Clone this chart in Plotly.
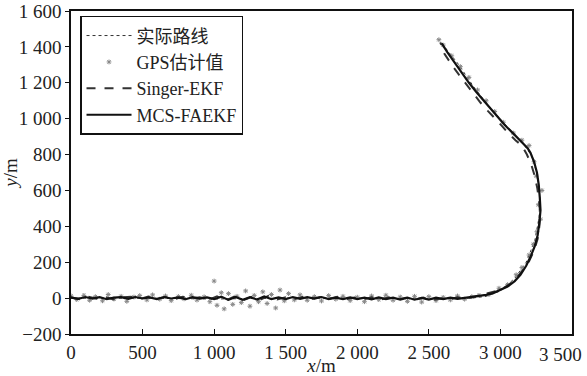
import plotly.graph_objects as go

# Actual route waypoints
route_x = [0, 500, 1000, 1500, 2000, 2500, 2800, 2900, 3000, 3100, 3180, 3240, 3270, 3275, 3260, 3220, 3170, 3080, 2950, 2820, 2700, 2580]
route_y = [0, 0, -5, 0, 0, -5, 0, 10, 40, 110, 200, 320, 450, 560, 680, 790, 850, 930, 1040, 1170, 1310, 1430]

# GPS estimates
gps_x = [0, 40, 90, 130, 170, 220, 260, 300, 350, 390, 440, 480, 530, 570, 620, 660, 700, 750, 790, 840,
         880, 930, 970, 1000, 1020, 1050, 1070, 1100, 1130, 1160, 1190, 1220, 1250, 1280, 1310, 1340, 1370,
         1400, 1430, 1460, 1490, 1520, 1560, 1600, 1650, 1700, 1750, 1800, 1850, 1900, 1950, 2000, 2050,
         2100, 2150, 2200, 2250, 2300, 2350, 2400, 2450, 2500, 2550, 2600, 2650, 2700, 2750, 2800, 2850,
         2920, 2990, 3050, 3110, 3150, 3200, 3230, 3255, 3280, 3265, 3290, 3250, 3235, 3200, 3150, 3090,
         3020, 2960, 2900, 2840, 2780, 2720, 2660, 2600, 2570]
gps_y = [12, -8, 15, -12, 8, -15, 20, -5, 10, -18, 6, 14, -10, 18, -6, 12, -14, 9, -4, 16,
         -11, 7, -20, 95, -40, 30, -60, 25, -35, 10, -25, 40, -45, 15, -20, 35, -30,
         20, -55, 45, -15, 25, -10, 18, -12, 8, -16, 14, -6, 10, -14, 5, -20,
         12, -8, 16, -12, 6, -18, 10, -22, 8, -14, 4, -10, 12, -6, 8, 15,
         20, 55, 75, 130, 170, 240, 300, 370, 440, 520, 600, 680, 760, 850, 880, 920,
         980, 1040, 1100, 1160, 1230, 1290, 1350, 1410, 1440]

# Singer-EKF estimates
singer_x = [0, 60, 120, 180, 240, 300, 360, 420, 480, 540, 600, 660, 720, 780, 840, 900, 960, 1020, 1080,
            1140, 1200, 1260, 1320, 1380, 1440, 1500, 1560, 1620, 1680, 1740, 1800, 1860, 1920, 1980,
            2040, 2100, 2160, 2220, 2280, 2340, 2400, 2460, 2520, 2580, 2640, 2700, 2760, 2820, 2880,
            2940, 3000, 3060, 3110, 3160, 3200, 3235, 3260, 3272, 3278, 3270, 3258, 3240, 3215, 3185,
            3150, 3105, 3060, 3010, 2960, 2910, 2860, 2810, 2760, 2710, 2660, 2610, 2580]
singer_y = [5, -6, 8, -4, 6, -8, 4, 7, -5, 9, -3, 6, -7, 8, -2, 5, -9, 10, -14, 8, -12, 6, -10, 12,
            -8, 4, -6, 7, -5, 6, -4, 8, -6, 3, -7, 5, -9, 4, -8, 2, -10, 3, -12, -2, -8, 5, -4, 8, 18,
            30, 45, 75, 110, 160, 205, 265, 330, 400, 470, 540, 610, 680, 745, 800, 850, 880, 915, 960,
            1000, 1045, 1090, 1140, 1190, 1245, 1300, 1360, 1425]

# MCS-FAEKF estimates
mcs_x = [0, 50, 100, 150, 200, 250, 300, 350, 400, 450, 500, 550, 600, 650, 700, 750, 800, 850, 900, 950,
         1000, 1050, 1100, 1150, 1200, 1250, 1300, 1350, 1400, 1450, 1500, 1550, 1600, 1650, 1700, 1750,
         1800, 1850, 1900, 1950, 2000, 2050, 2100, 2150, 2200, 2250, 2300, 2350, 2400, 2450, 2500, 2550,
         2600, 2650, 2700, 2750, 2800, 2850, 2900, 2950, 3000, 3050, 3100, 3140, 3180, 3210, 3240, 3260,
         3272, 3280, 3275, 3268, 3255, 3235, 3210, 3190, 3160, 3120, 3080, 3030, 2980, 2930, 2880,
         2830, 2780, 2730, 2680, 2630, 2590]
mcs_y = [3, -4, 6, -3, 5, -6, 3, 5, -4, 6, -2, 4, -5, 6, -2, 4, -6, 5, -3, 4, -6, 8, -10, 6, -9, 5,
         -8, 9, -6, 4, -5, 6, -4, 5, -3, 6, -5, 3, -6, 4, -5, 3, -7, 4, -6, 2, -8, 3, -9, 1, -8, 2,
         -6, 3, -4, 2, 4, 10, 18, 28, 45, 65, 95, 130, 180, 230, 290, 350, 420, 490, 560, 630, 700,
         760, 810, 835, 860, 890, 925, 965, 1010, 1055, 1100, 1150, 1200, 1255, 1310, 1370, 1420]

tick_x = [0, 500, 1000, 1500, 2000, 2500, 3000, 3500]
tick_x_text = ["0", "500", "1 000", "1 500", "2 000", "2 500", "3 000", "3 500"]
tick_y = [-200, 0, 200, 400, 600, 800, 1000, 1200, 1400, 1600]
tick_y_text = ["\u2212200", "0", "200", "400", "600", "800", "1 000", "1 200", "1 400", "1 600"]

FONT = "'Liberation Serif', 'Times New Roman', 'Noto Sans CJK SC', serif"

fig = go.Figure()
fig.add_trace(go.Scatter(x=route_x, y=route_y, mode="lines", name="实际路线",
                         line=dict(color="#333", width=1, dash="dot")))
fig.add_trace(go.Scatter(x=gps_x, y=gps_y, mode="markers", name="GPS估计值",
                         marker=dict(symbol="asterisk", size=4, color="#888",
                                     line=dict(width=1, color="#888"))))
fig.add_trace(go.Scatter(x=singer_x, y=singer_y, mode="lines", name="Singer-EKF",
                         line=dict(color="#333", width=2, dash="dash")))
fig.add_trace(go.Scatter(x=mcs_x, y=mcs_y, mode="lines", name="MCS-FAEKF",
                         line=dict(color="#111", width=2.2)))

# last x tick label is drawn as an annotation so it can sit flush with the right edge
last_label = tick_x_text[-1]
shown_x_text = tick_x_text[:-1] + [""]

fig.add_annotation(x=tick_x[-1], xref="x", y=0, yref="paper", text=last_label,
                   showarrow=False, xanchor="right", yanchor="top", xshift=12, yshift=-8,
                   font=dict(family=FONT, size=19, color="#222"))

fig.update_layout(
    width=587, height=376,
    margin=dict(l=71, r=15, t=11, b=42),
    paper_bgcolor="white", plot_bgcolor="white",
    font=dict(family=FONT, size=19, color="#222"),
    showlegend=True,
    legend=dict(x=0.018, y=0.985, xanchor="left", yanchor="top",
                bgcolor="white", bordercolor="#111", borderwidth=1.5,
                font=dict(family=FONT, size=18, color="#222"),
                tracegroupgap=0, itemwidth=45),
    xaxis=dict(range=[0, 3500], tickmode="array", tickvals=tick_x, ticktext=shown_x_text,
               ticks="inside", ticklen=5, tickcolor="#111", showgrid=False, zeroline=False,
               showline=True, linecolor="#111", linewidth=1.5, mirror=True,
               automargin=False,
               title=dict(text="<i>x</i>/m", font=dict(family=FONT, size=19), standoff=2)),
    yaxis=dict(range=[-200, 1600], tickmode="array", tickvals=tick_y, ticktext=tick_y_text,
               ticks="outside", ticklen=4, tickcolor="#111", showgrid=False, zeroline=False,
               showline=True, linecolor="#111", linewidth=1.5, mirror=True,
               automargin=False, ticklabeloverflow="allow",
               title=dict(text="<i>y</i>/m", font=dict(family=FONT, size=19), standoff=4)),
)

fig.write_html("out.html")
